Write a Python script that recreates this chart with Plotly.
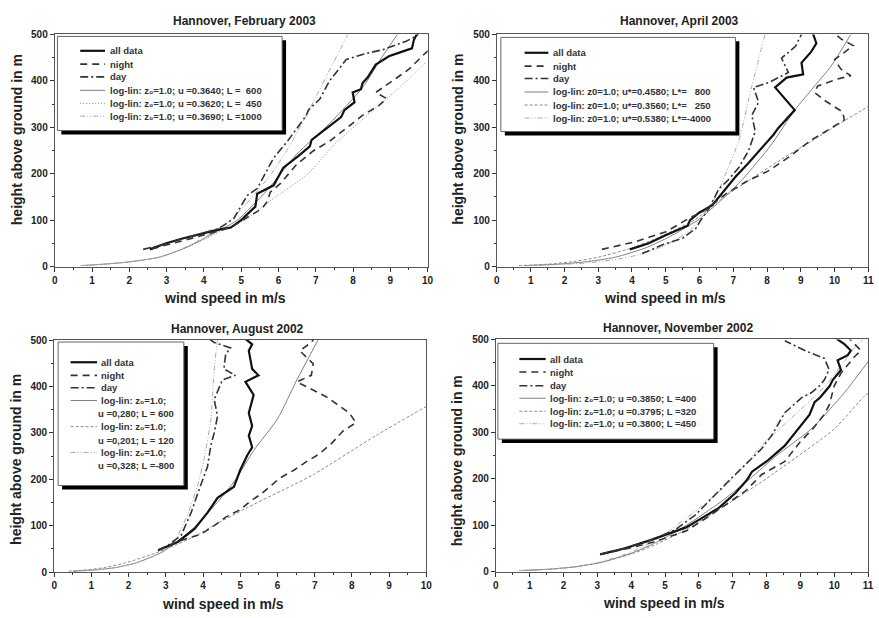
import plotly.graph_objects as go

W, H = 879, 618

# ---------------- data ----------------
# Hannover, February 2003
feb_all_v = [2.55, 2.95, 3.4, 3.92, 4.36, 4.72, 5.0, 5.38, 5.43, 5.87, 6.13, 6.53, 6.84, 6.89, 7.33, 7.68, 7.77, 8.04, 7.99, 8.21, 8.26, 8.39, 8.61, 8.96, 9.32, 9.58, 9.63, 9.72]
feb_all_h = [37, 49, 60, 70, 79, 84, 100, 129, 157, 175, 213, 238, 259, 273, 301, 322, 337, 354, 375, 382, 396, 407, 435, 453, 463, 470, 488, 502]
feb_night_v = [2.6, 3.0, 3.5, 4.0, 4.5, 4.72, 5.1, 5.56, 5.7, 5.78, 6.04, 6.49, 6.93, 7.37, 7.82, 8.26, 8.7, 8.9, 8.61, 9.05, 9.5, 9.94, 10.1]
feb_night_h = [38, 46, 57, 68, 78, 84, 103, 125, 140, 160, 178, 220, 249, 270, 298, 326, 347, 362, 375, 400, 425, 460, 470]
feb_day_v = [2.37, 2.8, 3.3, 3.9, 4.4, 4.8, 5.16, 5.43, 5.69, 5.87, 6.27, 6.75, 6.8, 7.11, 7.37, 7.82, 8.3, 8.79, 9.41, 9.67, 9.8]
feb_day_h = [37, 45, 57, 70, 82, 103, 153, 168, 206, 234, 273, 326, 337, 361, 400, 446, 458, 467, 485, 495, 505]
feb_fit1_v = [0.7, 1.3, 2.0, 2.8, 3.5, 4.0, 4.45, 4.9, 5.69, 6.49, 7.37, 8.26, 8.79, 9.19]
feb_fit1_h = [2, 5, 10, 20, 40, 60, 80, 100, 164, 242, 308, 386, 453, 500]
feb_fit2_v = [0.7, 1.3, 2.0, 2.8, 3.5, 4.05, 4.55, 5.1, 5.8, 6.8, 7.5, 8.3, 8.95, 9.44, 9.95]
feb_fit2_h = [2, 5, 10, 20, 40, 60, 80, 100, 143, 200, 263, 320, 365, 400, 440]
feb_fit3_v = [0.7, 1.3, 2.0, 2.8, 3.45, 3.95, 4.35, 4.71, 5.3, 5.81, 6.3, 6.84, 7.35, 7.86]
feb_fit3_h = [2, 5, 10, 20, 40, 60, 80, 100, 150, 200, 260, 340, 420, 500]

# Hannover, April 2003
apr_all_v = [3.94, 4.5, 5.01, 5.65, 5.72, 5.99, 6.38, 6.87, 7.06, 7.45, 7.94, 8.19, 8.33, 8.68, 8.82, 8.24, 8.58, 9.07, 9.02, 9.31, 9.46, 9.36]
apr_all_h = [37, 50, 68, 88, 100, 116, 132, 175, 193, 223, 263, 284, 298, 326, 337, 386, 407, 414, 439, 463, 481, 502]
apr_night_v = [3.11, 4.13, 5.01, 5.69, 6.09, 6.77, 7.36, 8.04, 8.63, 9.26, 9.8, 10.29, 10.24, 9.7, 9.41, 9.5, 10.09, 10.48, 10.19, 10.0, 10.3, 10.55, 10.2, 10.0]
apr_night_h = [37, 54, 75, 104, 118, 156, 182, 206, 235, 270, 294, 316, 333, 358, 375, 389, 404, 411, 425, 446, 462, 476, 490, 502]
apr_day_v = [4.3, 4.91, 5.5, 5.89, 6.04, 6.28, 6.57, 6.87, 7.16, 7.45, 7.65, 7.55, 7.75, 7.6, 8.04, 8.63, 8.43, 8.85, 9.02]
apr_day_h = [28, 47, 61, 82, 100, 125, 167, 188, 213, 249, 291, 326, 354, 386, 396, 418, 449, 475, 500]
apr_fit1_v = [0.8, 1.8, 2.6, 3.5, 4.4, 5.0, 5.5, 5.95, 6.6, 7.3, 8.1, 8.82, 9.41, 9.9, 10.48]
apr_fit1_h = [2, 5, 10, 20, 40, 60, 80, 100, 140, 190, 260, 337, 389, 432, 500]
apr_fit2_v = [0.65, 1.5, 2.2, 3.0, 4.0, 4.7, 5.3, 5.85, 6.67, 7.45, 8.4, 9.31, 10.2, 10.97, 11.2]
apr_fit2_h = [2, 5, 10, 20, 40, 60, 80, 100, 147, 185, 230, 270, 310, 344, 355]
apr_fit3_v = [0.9, 2.1, 3.0, 3.9, 4.8, 5.35, 5.75, 6.0, 6.48, 6.77, 7.16, 7.55, 7.94]
apr_fit3_h = [2, 5, 10, 20, 40, 60, 80, 100, 150, 199, 270, 389, 500]

# Hannover, August 2002
aug_all_v = [2.79, 3.05, 3.32, 3.77, 4.12, 4.39, 4.83, 5.0, 5.19, 5.32, 5.23, 5.32, 5.23, 5.36, 5.14, 5.49, 5.32, 5.23, 5.32, 5.1]
aug_all_h = [47, 55, 65, 93, 128, 160, 184, 220, 252, 269, 294, 315, 343, 382, 410, 424, 438, 477, 491, 505]
aug_night_v = [2.8, 3.2, 3.59, 3.95, 4.3, 4.6, 5.01, 5.27, 5.54, 6.07, 6.45, 6.78, 7.13, 7.45, 7.76, 8.11, 7.93, 7.31, 6.52, 6.91, 6.96, 6.6, 6.91, 7.0]
aug_night_h = [47, 62, 73, 82, 100, 118, 135, 153, 167, 203, 220, 238, 255, 277, 304, 322, 343, 378, 410, 424, 449, 477, 495, 505]
aug_day_v = [2.8, 3.1, 3.41, 3.68, 3.86, 4.12, 4.21, 4.3, 4.39, 4.3, 4.52, 4.87, 4.56, 4.61, 4.74, 4.3, 4.12]
aug_day_h = [47, 60, 79, 128, 170, 227, 273, 300, 336, 372, 414, 424, 438, 470, 483, 495, 505]
aug_fit1_v = [0.5, 1.16, 1.67, 2.21, 2.82, 3.22, 3.53, 3.81, 4.38, 4.88, 5.36, 6.0, 6.52, 7.09]
aug_fit1_h = [2, 5, 10, 20, 40, 60, 80, 100, 150, 200, 262, 330, 414, 500]
aug_fit2_v = [0.39, 0.91, 1.37, 1.92, 2.69, 3.31, 3.85, 4.21, 5.19, 6.96, 8.64, 10.0]
aug_fit2_h = [2, 5, 10, 20, 40, 60, 80, 97, 139, 210, 294, 357]
aug_fit3_v = [0.5, 1.15, 1.65, 2.2, 2.85, 3.2, 3.41, 3.59, 3.86, 4.03, 4.21, 4.3, 4.39, 4.42]
aug_fit3_h = [2, 5, 10, 20, 40, 60, 93, 125, 188, 245, 329, 435, 500, 505]

# Hannover, November 2002
nov_all_v = [3.08, 3.77, 4.55, 5.13, 5.62, 6.11, 6.59, 7.08, 7.42, 7.57, 8.05, 8.54, 8.93, 9.27, 9.42, 9.57, 9.86, 9.96, 10.2, 10.1, 10.4, 10.49, 10.3, 10.0]
nov_all_h = [37, 49, 67, 83, 95, 116, 137, 169, 197, 215, 240, 271, 306, 338, 365, 374, 399, 413, 434, 455, 466, 476, 490, 505]
nov_night_v = [3.1, 3.8, 4.64, 5.62, 6.4, 6.88, 7.37, 7.86, 8.54, 8.99, 9.4, 9.71, 9.86, 10.0, 10.2, 10.59, 10.79, 10.6, 10.4]
nov_night_h = [37, 48, 63, 87, 124, 149, 173, 209, 237, 279, 310, 339, 360, 400, 427, 462, 476, 490, 505]
nov_day_v = [3.1, 3.8, 4.6, 5.3, 5.9, 6.3, 6.88, 7.47, 7.86, 8.15, 8.54, 9.03, 9.32, 9.61, 9.71, 9.85, 9.71, 9.13, 8.54]
nov_day_h = [37, 50, 68, 90, 122, 152, 195, 237, 265, 293, 342, 374, 385, 403, 413, 435, 459, 476, 497]
nov_fit1_v = [0.69, 1.6, 2.34, 3.13, 4.03, 4.66, 5.18, 5.64, 6.65, 7.51, 8.3, 9.32, 10.3, 11.0]
nov_fit1_h = [2, 5, 10, 20, 40, 60, 80, 100, 150, 200, 250, 307, 385, 452]
nov_fit2_v = [0.69, 1.6, 2.33, 3.14, 4.09, 4.78, 5.35, 5.85, 6.95, 7.99, 8.84, 10.0, 10.88, 11.0]
nov_fit2_h = [2, 5, 10, 20, 40, 60, 80, 100, 150, 200, 244, 307, 377, 384]
nov_fit3_v = [0.68, 1.58, 2.29, 3.06, 3.93, 4.52, 4.99, 5.35, 6.25, 7.0, 7.86, 9.13, 9.81, 10.69, 10.85]
nov_fit3_h = [2, 5, 10, 20, 40, 60, 80, 100, 150, 200, 272, 357, 406, 490, 500]

# ticks
x_ticks_10 = list(range(0, 11))
x_ticks_11 = list(range(0, 12))
y_ticks = [0, 100, 200, 300, 400, 500]

titles = ["Hannover, February 2003", "Hannover, April 2003",
          "Hannover, August 2002", "Hannover, November 2002"]
x_title = "wind speed in m/s"
y_title = "height above ground in m"

Z0 = "z\u2080"
feb_labels = ["all data", "night", "day",
              "log-lin: " + Z0 + "=1.0; u =0.3640; L =\u00a0\u00a0600",
              "log-lin: " + Z0 + "=1.0; u =0.3620; L =\u00a0\u00a0450",
              "log-lin: " + Z0 + "=1.0; u =0.3690; L =1000"]
apr_labels = ["all data", "night", "day",
              "log-lin: z0=1.0; u*=0.4580; L*=\u00a0\u00a0\u00a0800",
              "log-lin: z0=1.0; u*=0.3560; L*=\u00a0\u00a0\u00a0250",
              "log-lin: z0=1.0; u*=0.5380; L*=-4000"]
aug_labels = ["all data", "night", "day",
              "log-lin: " + Z0 + "=1.0;", "log-lin: " + Z0 + "=1.0;", "log-lin: " + Z0 + "=1.0;"]
aug_labels2 = ["u =0,280; L = 600", "u =0,201; L = 120", "u =0,328; L =-800"]
nov_labels = ["all data", "night", "day",
              "log-lin: " + Z0 + "=1.0; u =0.3850; L =400",
              "log-lin: " + Z0 + "=1.0; u =0.3795; L =320",
              "log-lin: " + Z0 + "=1.0; u =0.3800; L =450"]

# ---------------- styles ----------------
FONT = "Liberation Sans"


def styles(fit2_dash):
    return [
        dict(color="#111111", width=2.2, dash="solid"),
        dict(color="#333333", width=1.6, dash="7px,5px"),
        dict(color="#333333", width=1.6, dash="8px,3px,2px,3px"),
        dict(color="#808080", width=1, dash="solid"),
        dict(color="#8a8a8a", width=1, dash=fit2_dash),
        dict(color="#aaaaaa", width=1, dash="5px,2px,1px,2px,1px,2px"),
    ]


panels = [
    dict(ax="", xmax=10, xt=x_ticks_10,
         series=[(feb_all_v, feb_all_h), (feb_night_v, feb_night_h), (feb_day_v, feb_day_h),
                 (feb_fit1_v, feb_fit1_h), (feb_fit2_v, feb_fit2_h), (feb_fit3_v, feb_fit3_h)],
         sty=styles("1px,2px"), labels=feb_labels, labels2=None,
         dom_x=(52.3, 429.0), dom_y=(29.0, 265.7),
         box=(55, 31, 282, 127), samp=(78, 103), tx=106,
         rows=[45.7, 59.3, 72.3, 86, 99.3, 112.3], rows2=None, tx2=None,
         title_xy=(243.7, 15), xt_xy=(224, 298), yt_xy=(15, 136)),
    dict(ax="2", xmax=11, xt=x_ticks_11,
         series=[(apr_all_v, apr_all_h), (apr_night_v, apr_night_h), (apr_day_v, apr_day_h),
                 (apr_fit1_v, apr_fit1_h), (apr_fit2_v, apr_fit2_h), (apr_fit3_v, apr_fit3_h)],
         sty=styles("3px,2px"), labels=apr_labels, labels2=None,
         dom_x=(499.0, 874.3), dom_y=(29.0, 265.7),
         box=(503, 32, 740, 128), samp=(527, 551), tx=553.5,
         rows=[47.7, 61.3, 74, 87.7, 101, 114.3], rows2=None, tx2=None,
         title_xy=(684, 15), xt_xy=(668.5, 298), yt_xy=(460, 136)),
    dict(ax="3", xmax=10, xt=x_ticks_10,
         series=[(aug_all_v, aug_all_h), (aug_night_v, aug_night_h), (aug_day_v, aug_day_h),
                 (aug_fit1_v, aug_fit1_h), (aug_fit2_v, aug_fit2_h), (aug_fit3_v, aug_fit3_h)],
         sty=styles("3px,2px"), labels=aug_labels, labels2=aug_labels2,
         dom_x=(51.7, 427.7), dom_y=(340.7, 577.3),
         box=(55.7, 342.7, 182.7, 489), samp=(68.3, 95), tx=96.7,
         rows=[363.3, 376.7, 389.3, 402.3, 429, 455.3], rows2=[416, 442.7, 468.3], tx2=93.5,
         title_xy=(236.7, 329), xt_xy=(222.7, 610), yt_xy=(13, 462)),
    dict(ax="4", xmax=11, xt=x_ticks_11,
         series=[(nov_all_v, nov_all_h), (nov_night_v, nov_night_h), (nov_day_v, nov_day_h),
                 (nov_fit1_v, nov_fit1_h), (nov_fit2_v, nov_fit2_h), (nov_fit3_v, nov_fit3_h)],
         sty=styles("3px,2px"), labels=nov_labels, labels2=None,
         dom_x=(498.0, 874.0), dom_y=(340.0, 576.7),
         box=(500, 344, 718, 441.7), samp=(521.7, 548.3), tx=550.7,
         rows=[360, 373.3, 387.3, 400, 413.3, 426], rows2=None, tx2=None,
         title_xy=(681.7, 328), xt_xy=(668.3, 609.3), yt_xy=(459, 464)),
]


def PX(x):
    return x / W


def PY(y):
    return 1 - y / H


fig = go.Figure()
layout = dict(width=W, height=H, margin=dict(l=0, r=0, t=0, b=0),
              paper_bgcolor="white", plot_bgcolor="white", showlegend=False)
shapes = []
annotations = []

tickfont = dict(family=FONT, size=10, color="#222222", weight="bold")

for i, p in enumerate(panels):
    ax = p["ax"]
    xa = "x" + ax
    ya = "y" + ax
    # traces: fits first (underneath), then measured profiles
    order = [3, 4, 5, 0, 1, 2]
    for k in order:
        v, h = p["series"][k]
        s = p["sty"][k]
        fig.add_trace(go.Scatter(
            x=v, y=h, mode="lines", xaxis=xa, yaxis=ya,
            line=dict(color=s["color"], width=s["width"], dash=s["dash"],
                      shape="spline" if k >= 3 else "linear", smoothing=0.6),
            hoverinfo="skip"))
    xt = p["xt"]
    xaxis = dict(
        domain=[PX(p["dom_x"][0]), PX(p["dom_x"][1])], anchor=ya,
        range=[0, p["xmax"]], tickmode="array", tickvals=xt,
        ticktext=[str(t) for t in xt],
        showline=True, linecolor="#555555", linewidth=1, mirror=True,
        ticks="outside", ticklen=4, tickwidth=1, tickcolor="#333333",
        showgrid=False, zeroline=False, tickfont=tickfont,
        minor=dict(tickmode="array", tickvals=[t + 0.5 for t in xt[:-1]],
                   ticks="outside", ticklen=2, tickcolor="#333333"))
    yaxis = dict(
        domain=[PY(p["dom_y"][1]), PY(p["dom_y"][0])], anchor=xa,
        range=[0, 500], tickmode="array", tickvals=y_ticks,
        ticktext=[str(t) for t in y_ticks],
        showline=True, linecolor="#555555", linewidth=1, mirror=True,
        ticks="outside", ticklen=4, tickwidth=1, tickcolor="#333333",
        showgrid=False, zeroline=False, tickfont=tickfont,
        minor=dict(tickmode="array", tickvals=[t + 50 for t in y_ticks[:-1]],
                   ticks="outside", ticklen=2, tickcolor="#333333"))
    layout["xaxis" + ax] = xaxis
    layout["yaxis" + ax] = yaxis

    # titles
    annotations.append(dict(text=titles[i], x=PX(p["title_xy"][0]), y=PY(p["title_xy"][1]),
                            xref="paper", yref="paper", showarrow=False, xanchor="center", yanchor="middle",
                            font=dict(family=FONT, size=12, color="#222222", weight="bold")))
    annotations.append(dict(text=x_title, x=PX(p["xt_xy"][0]), y=PY(p["xt_xy"][1]),
                            xref="paper", yref="paper", showarrow=False, xanchor="center", yanchor="middle",
                            font=dict(family=FONT, size=14, color="#222222", weight="bold")))
    annotations.append(dict(text=y_title, x=PX(p["yt_xy"][0]), y=PY(p["yt_xy"][1]),
                            xref="paper", yref="paper", showarrow=False, xanchor="center", yanchor="middle",
                            textangle=-90, font=dict(family=FONT, size=14, color="#222222", weight="bold")))

    # legend box with shadow
    bx0, by0, bx1, by1 = p["box"]
    shapes.append(dict(type="rect", xref="paper", yref="paper", layer="above",
                       x0=PX(bx0 + 4), x1=PX(bx1 + 4), y0=PY(by0 + 4), y1=PY(by1 + 4),
                       line=dict(width=0), fillcolor="#000000"))
    shapes.append(dict(type="rect", xref="paper", yref="paper", layer="above",
                       x0=PX(bx0), x1=PX(bx1), y0=PY(by0), y1=PY(by1),
                       line=dict(width=1, color="#666666"), fillcolor="white"))
    sx0, sx1 = p["samp"]
    for k, ry in enumerate(p["rows"]):
        s = p["sty"][k]
        shapes.append(dict(type="line", xref="paper", yref="paper", layer="above",
                           x0=PX(sx0), x1=PX(sx1), y0=PY(ry), y1=PY(ry),
                           line=dict(color=s["color"], width=s["width"], dash=s["dash"])))
        annotations.append(dict(text=p["labels"][k], x=PX(p["tx"]), y=PY(ry),
                                xref="paper", yref="paper", showarrow=False, xanchor="left", yanchor="middle",
                                font=dict(family=FONT, size=9.5, color="#333333", weight="bold")))
    if p["labels2"]:
        for lbl, ry in zip(p["labels2"], p["rows2"]):
            annotations.append(dict(text=lbl, x=PX(p["tx2"]), y=PY(ry),
                                    xref="paper", yref="paper", showarrow=False, xanchor="left", yanchor="middle",
                                    font=dict(family=FONT, size=9.5, color="#333333", weight="bold")))

layout["shapes"] = shapes
layout["annotations"] = annotations
fig.update_layout(**layout)
fig.write_html("out.html")
